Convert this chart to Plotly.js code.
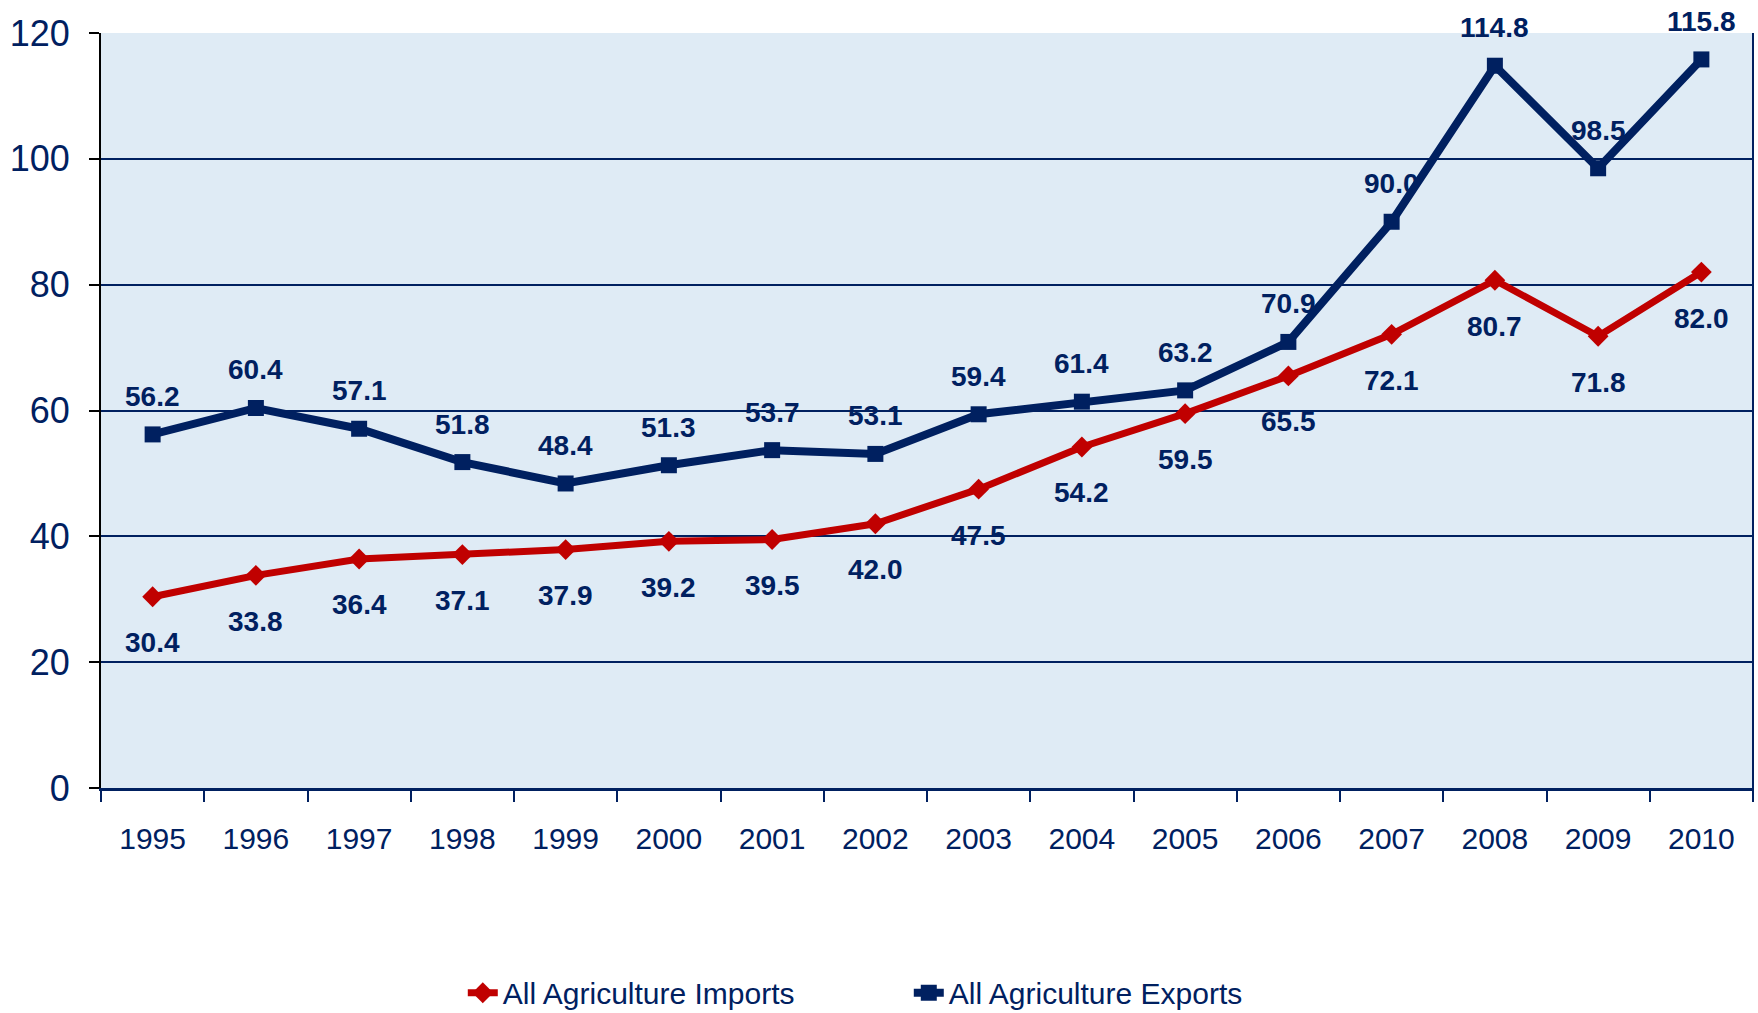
<!DOCTYPE html>
<html>
<head>
<meta charset="utf-8">
<script src="https://cdn.plot.ly/plotly-3.0.1.min.js"></script>
<style>
  html, body { margin: 0; padding: 0; background: #ffffff; }
  #chart { width: 1758px; height: 1013px; }
</style>
</head>
<body>
<div id="chart"></div>
<script>
const years = ['1995','1996','1997','1998','1999','2000','2001','2002','2003','2004','2005','2006','2007','2008','2009','2010'];
const importsValues = [30.4, 33.8, 36.4, 37.1, 37.9, 39.2, 39.5, 42.0, 47.5, 54.2, 59.5, 65.5, 72.1, 80.7, 71.8, 82.0];
const exportsValues = [56.2, 60.4, 57.1, 51.8, 48.4, 51.3, 53.7, 53.1, 59.4, 61.4, 63.2, 70.9, 90.0, 114.8, 98.5, 115.8];
const importsName = 'All Agriculture Imports';
const exportsName = 'All Agriculture Exports';
const yTicks = [0, 20, 40, 60, 80, 100, 120];

const NAVY = '#002060';
const RED = '#c00000';
const FONT = '"Liberation Sans Narrow", "Arial Narrow", "Liberation Sans", Arial, sans-serif';

const traces = [
  {
    x: years, y: importsValues, name: importsName, type: 'scatter', mode: 'lines+markers',
    line: { color: RED, width: 7 },
    marker: { symbol: 'diamond', size: 16, color: RED },
    cliponaxis: false
  },
  {
    x: years, y: exportsValues, name: exportsName, type: 'scatter', mode: 'lines+markers',
    line: { color: NAVY, width: 8 },
    marker: { symbol: 'square', size: 16, color: NAVY },
    cliponaxis: false
  }
];

const labelFont = { family: FONT, size: 28, color: NAVY, weight: 'bold' };
const annotations = [];
years.forEach((yr, i) => {
  annotations.push({
    x: i, y: importsValues[i], text: importsValues[i].toFixed(1), showarrow: false,
    yshift: -46, font: labelFont
  });
  annotations.push({
    x: i, y: exportsValues[i], text: exportsValues[i].toFixed(1), showarrow: false,
    yshift: 38, font: labelFont
  });
});

const layout = {
  width: 1758, height: 1013,
  margin: { l: 101, r: 5, t: 33, b: 225 },
  paper_bgcolor: '#ffffff',
  plot_bgcolor: '#dfebf5',
  font: { family: FONT, color: NAVY },
  showlegend: true,
  legend: {
    orientation: 'h', x: 0.219, xanchor: 'left',
    yref: 'container', y: 0.02, yanchor: 'middle',
    font: { family: FONT, size: 30, color: NAVY },
    entrywidth: 401, entrywidthmode: 'pixels',
    bgcolor: 'rgba(0,0,0,0)'
  },
  xaxis: {
    type: 'category',
    range: [-0.5, years.length - 0.5],
    autorange: false,
    tickson: 'boundaries',
    ticks: 'outside', ticklen: 11, tickwidth: 2, tickcolor: NAVY,
    showline: true, linecolor: NAVY, linewidth: 3,
    showgrid: false, zeroline: false,
    tickangle: 0,
    tickfont: { family: FONT, size: 30, color: NAVY },
    ticklabelstandoff: 22,
    fixedrange: true
  },
  yaxis: {
    range: [0, 120],
    autorange: false,
    tickvals: yTicks,
    ticks: 'outside', ticklen: 10, tickwidth: 2, tickcolor: '#000000',
    showline: true, linecolor: '#000000', linewidth: 2,
    showgrid: true, gridcolor: NAVY, gridwidth: 2,
    zeroline: false,
    tickfont: { family: FONT, size: 36, color: NAVY },
    ticklabelstandoff: 12,
    fixedrange: true
  },
  shapes: [
    { type: 'line', xref: 'paper', yref: 'paper', x0: 1, x1: 1, y0: 0, y1: 1,
      line: { color: NAVY, width: 2 } },
    { type: 'line', xref: 'paper', yref: 'paper', x0: 1, x1: 1, y0: 0, y1: -0.0146,
      line: { color: NAVY, width: 2 } }
  ],
  annotations: annotations
};

Plotly.newPlot('chart', traces, layout, { displayModeBar: false, staticPlot: true });
</script>
</body>
</html>
